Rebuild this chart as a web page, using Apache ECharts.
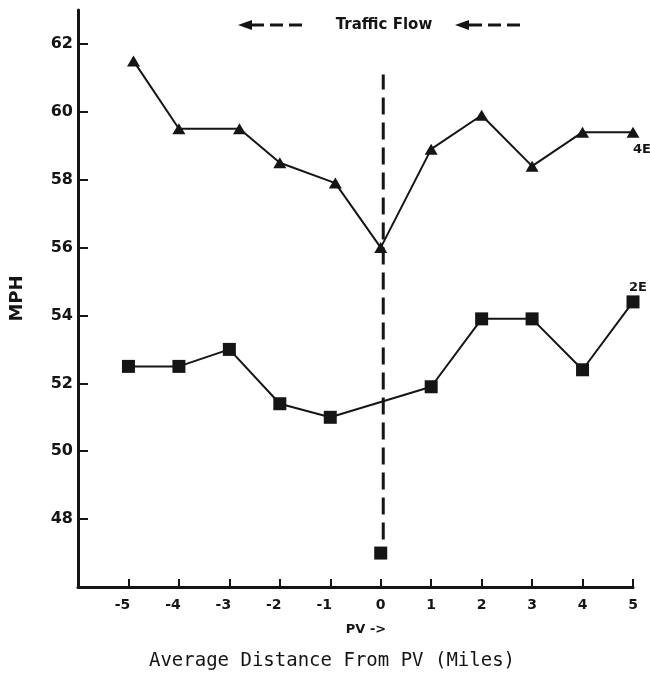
<!DOCTYPE html>
<html>
<head>
<meta charset="utf-8">
<script src="https://cdn.jsdelivr.net/npm/echarts@6/dist/echarts.min.js"></script>
<style>
  html, body { margin: 0; padding: 0; background: #ffffff; }
  #chart { width: 650px; height: 675px; }
</style>
</head>
<body>
<div id="chart"></div>
<script>
// distance from PV (miles)
const dist4E = [-4.9, -4, -2.8, -2, -0.9, 0, 1, 2, 3, 4, 5]
const speed4E = [61.5, 59.5, 59.5, 58.5, 57.9, 56.0, 58.9, 59.9, 58.4, 59.4, 59.4]
const dist2E = [-5, -4, -3, -2, -1, 1, 2, 3, 4, 5]
const speed2E = [52.5, 52.5, 53.0, 51.4, 51.0, 51.9, 53.9, 53.9, 52.4, 54.4]
// lone 2E point at the PV, not joined to the line
const pvPoint2E = [0, 47.0]
// dashed PV marker
const pvLineX = 0.05
const pvLineRange = [47.4, 61.1]
const xTicks = [-5, -4, -3, -2, -1, 0, 1, 2, 3, 4, 5]
const yTicks = [48, 50, 52, 54, 56, 58, 60, 62]

const ink = '#151515'
const font = 'DejaVu Sans'

const chart = echarts.init(document.getElementById('chart'))

const option = {
  backgroundColor: '#ffffff',
  animation: false,
  grid: {
    left: 75,
    right: 17,
    top: 10,
    bottom: 88
  },
  xAxis: {
    type: 'value',
    min: -6,
    max: 5,
    interval: 1,
    splitLine: { show: false },
    axisLine: { onZero: false, lineStyle: { color: ink, width: 3 } },
    axisTick: {
      inside: true,
      length: 8,
      customValues: xTicks,
      lineStyle: { color: ink, width: 2 }
    },
    axisLabel: {
      customValues: xTicks,
      margin: 11,
      color: ink,
      fontFamily: font,
      fontWeight: 'bold',
      fontSize: 14,
      // the minus sign hangs left of the tick, the digit sits on it
      formatter: function (v) {
        return v < 0 ? '{neg|' + v + '}' : '' + v
      },
      rich: {
        neg: {
          color: ink,
          fontFamily: font,
          fontWeight: 'bold',
          fontSize: 14,
          padding: [0, 12, 0, 0]
        }
      }
    }
  },
  yAxis: {
    type: 'value',
    min: 46,
    max: 63,
    interval: 2,
    splitLine: { show: false },
    name: 'MPH',
    nameLocation: 'middle',
    nameGap: 52,
    nameRotate: 90,
    nameTextStyle: {
      color: ink,
      fontFamily: font,
      fontWeight: 'bold',
      fontSize: 18
    },
    axisLine: { onZero: false, lineStyle: { color: ink, width: 3 } },
    axisTick: {
      inside: true,
      length: 10,
      customValues: yTicks,
      lineStyle: { color: ink, width: 2 }
    },
    axisLabel: {
      customValues: yTicks,
      margin: 5,
      color: ink,
      fontFamily: font,
      fontWeight: 'bold',
      fontSize: 16
    }
  },
  graphic: [
    {
      type: 'text',
      x: 384, y: 25,
      style: { text: 'Traffic Flow', fill: ink, font: 'bold 15px "DejaVu Sans"', align: 'center', verticalAlign: 'middle' }
    },
    // left arrow
    { type: 'polygon', shape: { points: [[238, 25], [252, 20], [252, 30]] }, style: { fill: ink } },
    { type: 'line', shape: { x1: 250, y1: 25, x2: 264, y2: 25 }, style: { stroke: ink, lineWidth: 3 } },
    { type: 'line', shape: { x1: 270, y1: 25, x2: 302, y2: 25 }, style: { stroke: ink, lineWidth: 3, lineDash: [13, 6] } },
    // right arrow
    { type: 'polygon', shape: { points: [[455, 25], [469, 20], [469, 30]] }, style: { fill: ink } },
    { type: 'line', shape: { x1: 467, y1: 25, x2: 482, y2: 25 }, style: { stroke: ink, lineWidth: 3 } },
    { type: 'line', shape: { x1: 488, y1: 25, x2: 522, y2: 25 }, style: { stroke: ink, lineWidth: 3, lineDash: [13, 6] } },
    {
      type: 'text',
      x: 642, y: 150,
      style: { text: '4E', fill: ink, font: 'bold 13px "DejaVu Sans"', align: 'center', verticalAlign: 'middle' }
    },
    {
      type: 'text',
      x: 638, y: 288,
      style: { text: '2E', fill: ink, font: 'bold 13px "DejaVu Sans"', align: 'center', verticalAlign: 'middle' }
    },
    {
      type: 'text',
      x: 366, y: 630,
      style: { text: 'PV ->', fill: ink, font: 'bold 13px "DejaVu Sans"', align: 'center', verticalAlign: 'middle' }
    },
    {
      type: 'text',
      x: 332, y: 661,
      style: { text: 'Average Distance From PV (Miles)', fill: ink, font: '19px "DejaVu Sans Mono"', align: 'center', verticalAlign: 'middle' }
    }
  ],
  series: [
    {
      name: 'PV',
      type: 'line',
      data: [[pvLineX, pvLineRange[0]], [pvLineX, pvLineRange[1]]],
      showSymbol: false,
      symbol: 'none',
      lineStyle: { color: ink, width: 3, type: [17, 8] },
      z: 1
    },
    {
      name: '4E',
      type: 'line',
      data: dist4E.map((d, i) => [d, speed4E[i]]),
      symbol: 'triangle',
      symbolSize: [13, 11],
      itemStyle: { color: ink },
      lineStyle: { color: ink, width: 2 },
      clip: false,
      z: 3
    },
    {
      name: '2E',
      type: 'line',
      data: dist2E.map((d, i) => [d, speed2E[i]]),
      symbol: 'rect',
      symbolSize: 13,
      itemStyle: { color: ink },
      lineStyle: { color: ink, width: 2 },
      clip: false,
      z: 3
    },
    {
      name: '2E at PV',
      type: 'scatter',
      data: [pvPoint2E],
      symbol: 'rect',
      symbolSize: 13,
      itemStyle: { color: ink, opacity: 1 },
      z: 3
    }
  ]
}

chart.setOption(option)
</script>
</body>
</html>
